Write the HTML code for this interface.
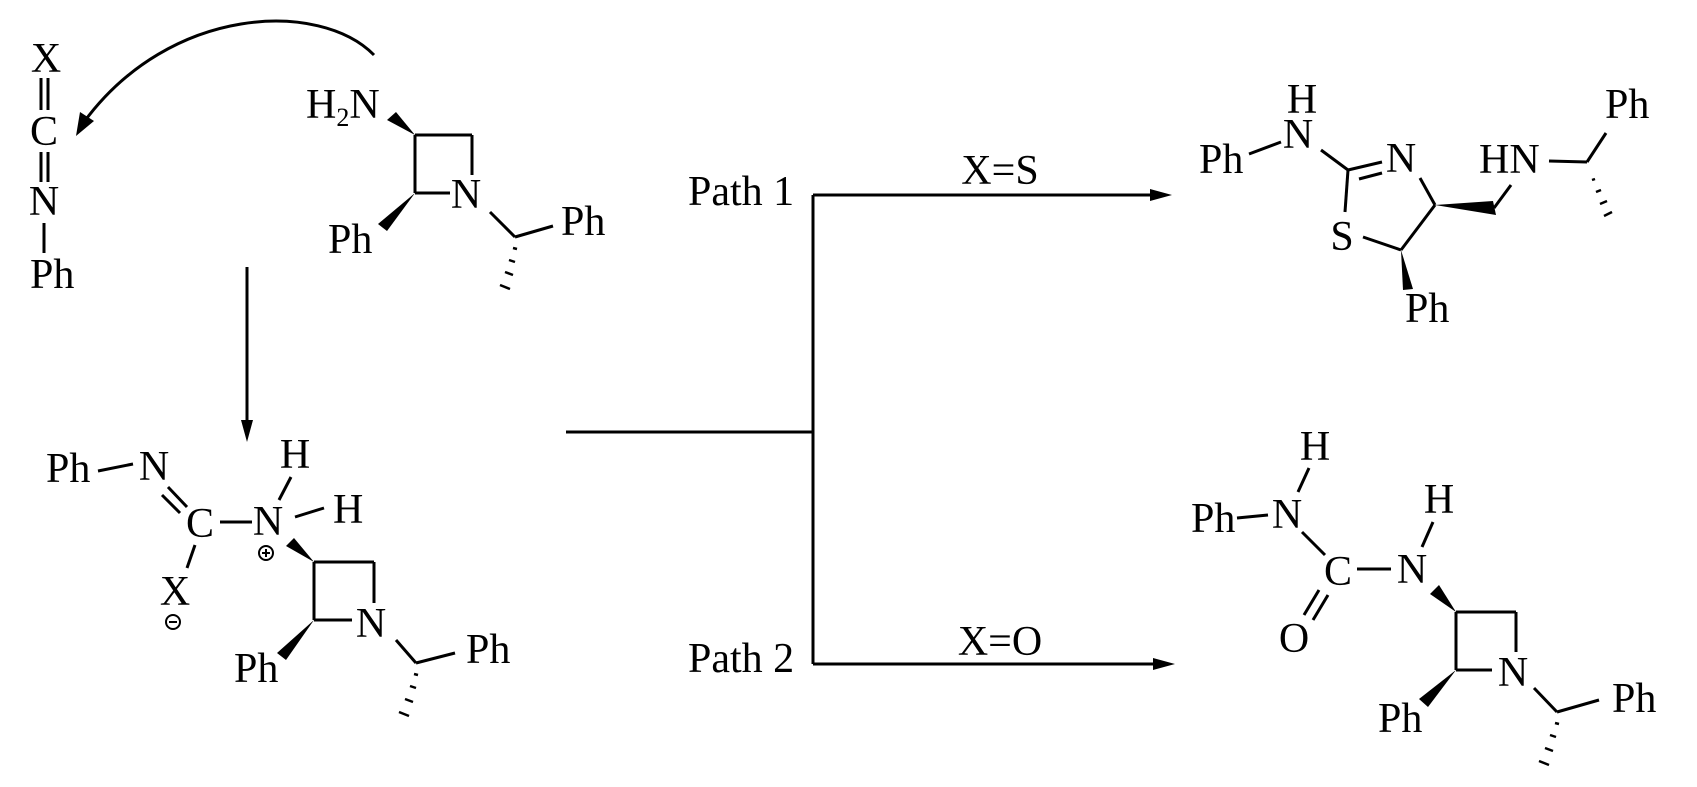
<!DOCTYPE html>
<html><head><meta charset="utf-8"><style>
html,body{margin:0;padding:0;background:#fff}
svg{display:block}
text{font-family:"Liberation Serif",serif;font-size:42px;fill:#000}
</style></head><body>
<svg width="1697" height="787" viewBox="0 0 1697 787" xmlns="http://www.w3.org/2000/svg">
<g stroke="#000" stroke-width="3" fill="none" stroke-linecap="butt">
<!-- isocyanate -->
<line x1="41" y1="78" x2="41" y2="110"/><line x1="48" y1="78" x2="48" y2="110"/>
<line x1="41" y1="152" x2="41" y2="182"/><line x1="48" y1="152" x2="48" y2="182"/>
<line x1="44" y1="223" x2="44" y2="253"/>
<path d="M374,55 C320,0 170,5 84,122"/>
<!-- top amine azetidine -->
<line x1="415" y1="135" x2="472" y2="135"/>
<line x1="472" y1="135" x2="472" y2="175"/>
<line x1="415" y1="135" x2="415" y2="193"/>
<line x1="415" y1="193" x2="450" y2="193"/>
<line x1="490" y1="212" x2="515" y2="237"/>
<line x1="515" y1="237" x2="553" y2="226"/>
<!-- vertical arrow -->
<line x1="247" y1="267" x2="247" y2="425"/>
<!-- branch lines -->
<line x1="566" y1="432" x2="813" y2="432"/>
<line x1="813" y1="195" x2="813" y2="664"/>
<line x1="813" y1="195" x2="1160" y2="195"/>
<line x1="813" y1="664" x2="1162" y2="664"/>
<!-- intermediate -->
<line x1="98" y1="471" x2="133" y2="464"/>
<line x1="168" y1="487" x2="187" y2="507"/><line x1="162" y1="495" x2="180" y2="513"/>
<line x1="220" y1="522" x2="252" y2="522"/>
<line x1="279" y1="500" x2="291" y2="477"/>
<line x1="295" y1="517" x2="324" y2="508"/>
<line x1="195" y1="545" x2="187" y2="568"/>
<line x1="314" y1="562" x2="374" y2="562"/>
<line x1="374" y1="562" x2="374" y2="603"/>
<line x1="314" y1="562" x2="314" y2="620"/>
<line x1="314" y1="620" x2="352" y2="620"/>
<line x1="396" y1="640" x2="416" y2="663"/>
<line x1="416" y1="663" x2="455" y2="653"/>
<circle cx="266" cy="553" r="7" stroke-width="2"/>
<line x1="262" y1="553" x2="270" y2="553" stroke-width="2"/><line x1="266" y1="549" x2="266" y2="557" stroke-width="2"/>
<circle cx="173" cy="622" r="7" stroke-width="2"/>
<line x1="169" y1="622" x2="177" y2="622" stroke-width="2"/>
<!-- thiazoline product -->
<line x1="1249" y1="154" x2="1281" y2="142"/>
<line x1="1321" y1="150" x2="1348" y2="170"/>
<line x1="1348" y1="170" x2="1382" y2="162"/>
<line x1="1359" y1="179" x2="1382" y2="173"/>
<line x1="1348" y1="170" x2="1345" y2="212"/>
<line x1="1363" y1="237" x2="1401" y2="250"/>
<line x1="1401" y1="250" x2="1435" y2="205"/>
<line x1="1435" y1="205" x2="1420" y2="178"/>
<line x1="1494" y1="208" x2="1511" y2="185"/>
<line x1="1549" y1="161" x2="1587" y2="162"/>
<line x1="1587" y1="162" x2="1606" y2="133"/>
<!-- urea product -->
<line x1="1309" y1="468" x2="1298" y2="492"/>
<line x1="1237" y1="518" x2="1268" y2="515"/>
<line x1="1302" y1="532" x2="1325" y2="555"/>
<line x1="1319" y1="590" x2="1304" y2="615"/><line x1="1328" y1="595" x2="1313" y2="620"/>
<line x1="1357" y1="569" x2="1391" y2="569"/>
<line x1="1433" y1="522" x2="1422" y2="547"/>
<line x1="1456" y1="612" x2="1516" y2="612"/>
<line x1="1516" y1="612" x2="1516" y2="652"/>
<line x1="1456" y1="612" x2="1456" y2="670"/>
<line x1="1456" y1="670" x2="1492" y2="670"/>
<line x1="1534" y1="688" x2="1557" y2="712"/>
<line x1="1557" y1="712" x2="1599" y2="700"/>
<!-- hashes -->
<g stroke-width="2.5">
<line x1="513" y1="248" x2="517" y2="249"/><line x1="509" y1="260" x2="515" y2="262"/><line x1="505" y1="272" x2="513" y2="275"/><line x1="500" y1="285" x2="510" y2="289"/>
<line x1="414" y1="674" x2="418" y2="675"/><line x1="410" y1="686" x2="416" y2="688"/><line x1="405" y1="699" x2="413" y2="702"/><line x1="399" y1="712" x2="409" y2="716"/>
<line x1="1592" y1="180" x2="1595" y2="179"/><line x1="1596" y1="192" x2="1601" y2="190"/><line x1="1600" y1="204" x2="1607" y2="201"/><line x1="1604" y1="216" x2="1612" y2="212"/>
<line x1="1555" y1="723" x2="1559" y2="724"/><line x1="1550" y1="735" x2="1556" y2="737"/><line x1="1545" y1="748" x2="1553" y2="751"/><line x1="1539" y1="761" x2="1549" y2="765"/>
</g>
</g>
<g fill="#000" stroke="none">
<polygon points="76,136 80,112 94,121"/>
<polygon points="247,442 241,420 253,420"/>
<polygon points="1172,195 1150,189 1150,201"/>
<polygon points="1175,664 1153,658 1153,670"/>
<!-- wedges -->
<polygon points="415,135 387,120 396,112"/>
<polygon points="415,193 378,224 387,231"/>
<polygon points="314,562 286,546 294,538"/>
<polygon points="314,620 277,653 286,660"/>
<polygon points="1401,250 1403,290 1413,289"/>
<polygon points="1435,205 1493,201 1496,215"/>
<polygon points="1456,612 1430,594 1439,585"/>
<polygon points="1456,670 1419,699 1428,707"/>
</g>
<!-- labels -->
<text x="46" y="72" text-anchor="middle">X</text>
<text x="44" y="145" text-anchor="middle">C</text>
<text x="44" y="215" text-anchor="middle">N</text>
<text x="30" y="288">Ph</text>
<text x="306" y="118">H<tspan font-size="26" dy="8">2</tspan><tspan dy="-8">N</tspan></text>
<text x="466" y="208" text-anchor="middle">N</text>
<text x="328" y="253">Ph</text>
<text x="561" y="235">Ph</text>
<text x="688" y="205">Path 1</text>
<text x="688" y="672">Path 2</text>
<text x="1000" y="184" text-anchor="middle">X=S</text>
<text x="1000" y="655" text-anchor="middle">X=O</text>
<text x="46" y="482">Ph</text>
<text x="154" y="480" text-anchor="middle">N</text>
<text x="200" y="537" text-anchor="middle">C</text>
<text x="268" y="535" text-anchor="middle">N</text>
<text x="295" y="468" text-anchor="middle">H</text>
<text x="333" y="523">H</text>
<text x="175" y="605" text-anchor="middle">X</text>
<text x="371" y="637" text-anchor="middle">N</text>
<text x="234" y="682">Ph</text>
<text x="466" y="663">Ph</text>
<text x="1302" y="113" text-anchor="middle">H</text>
<text x="1298" y="148" text-anchor="middle">N</text>
<text x="1199" y="173">Ph</text>
<text x="1401" y="172" text-anchor="middle">N</text>
<text x="1342" y="250" text-anchor="middle">S</text>
<text x="1479" y="173">HN</text>
<text x="1605" y="118">Ph</text>
<text x="1405" y="322">Ph</text>
<text x="1315" y="460" text-anchor="middle">H</text>
<text x="1287" y="528" text-anchor="middle">N</text>
<text x="1191" y="532">Ph</text>
<text x="1338" y="585" text-anchor="middle">C</text>
<text x="1294" y="652" text-anchor="middle">O</text>
<text x="1412" y="583" text-anchor="middle">N</text>
<text x="1439" y="513" text-anchor="middle">H</text>
<text x="1513" y="686" text-anchor="middle">N</text>
<text x="1378" y="732">Ph</text>
<text x="1612" y="712">Ph</text>
</svg>
</body></html>
